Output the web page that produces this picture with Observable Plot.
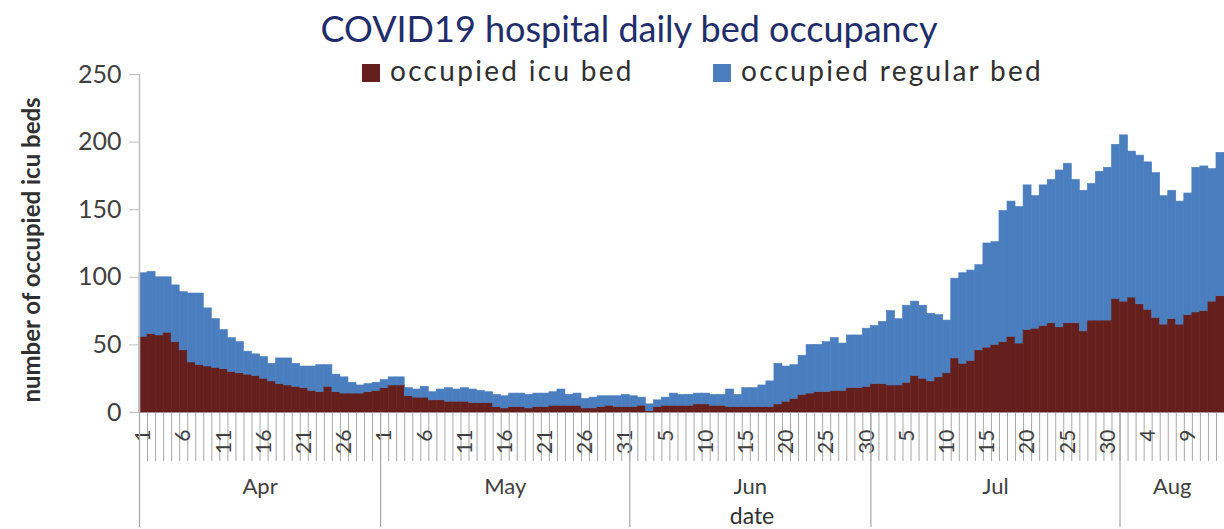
<!DOCTYPE html>
<html>
<head>
<meta charset="utf-8">
<script src="https://cdn.jsdelivr.net/npm/d3@7"></script>
<script src="https://cdn.jsdelivr.net/npm/@observablehq/plot@0.6"></script>
<style>
  html, body { margin: 0; padding: 0; background: #ffffff; }
  body { font-family: Lato, "Open Sans", sans-serif; }
  #wrap { position: relative; width: 1224px; height: 529px; overflow: hidden; background: #fff; }
  #chart { position: absolute; left: 0; top: 0; }
  .abs { position: absolute; white-space: nowrap; line-height: 1; }
  #title { left: 629px; top: 10px; transform: translateX(-50%); font-size: 36px; color: #1f2d6b; }
  .legend { top: 56px; font-size: 28px; color: #303030; letter-spacing: 2.3px; }
  .sw { display: inline-block; width: 18px; height: 18px; vertical-align: -1px; margin-right: 10px; }
  #ytitle { left: 31px; top: 250px; transform: translate(-50%, -50%) rotate(-90deg); font-size: 24px; font-weight: 700; color: #303030; }
  #xtitle { left: 752px; top: 504px; transform: translateX(-50%); font-size: 23px; line-height: 23px; color: #303030; }
</style>
</head>
<body>
<div id="wrap">
  <div id="chart"></div>
  <div id="title" class="abs">COVID19 hospital daily bed occupancy</div>
  <div id="leg1" class="abs legend" style="left:362px"><span class="sw" style="background:#65201e"></span>occupied icu bed</div>
  <div id="leg2" class="abs legend" style="left:713px"><span class="sw" style="background:#4a7ebf"></span>occupied regular bed</div>
  <div id="ytitle" class="abs">number of occupied icu beds</div>
  <div id="xtitle" class="abs">date</div>
</div>
<script>
// ---- data (one value per day, starting at firstDay) ----
const firstDay = "2020-04-01";
const seriesNames = ["occupied icu bed", "occupied regular bed"];
const seriesColors = ["#65201e", "#4a7ebf"];
const icu = [
  56, 58, 57, 59, 52, 46, 37, 35, 34, 33, 32, 30, 29, 28, 27, 25, 23, 21, 20, 19,
  18, 16, 15, 19, 15, 14, 14, 14, 15, 16,
  18, 20, 20, 12, 11, 11, 9, 9, 8, 8, 8, 7, 7, 7, 4, 3, 4, 4, 3, 4,
  4, 5, 5, 5, 5, 3, 3, 4, 5, 4, 4,
  4, 5, 1, 4, 5, 5, 5, 5, 6, 6, 5, 5, 4, 4, 4, 4, 4, 4, 6, 8,
  10, 13, 14, 15, 15, 16, 16, 18, 18, 19,
  21, 21, 20, 20, 22, 27, 25, 23, 26, 29, 40, 36, 38, 46, 48, 50, 52, 56, 51, 61,
  62, 64, 66, 63, 66, 66, 60, 68, 68, 68, 84,
  82, 85, 80, 76, 70, 65, 69, 65, 72, 74, 75, 82, 86
];
const regular = [
  47, 46, 43, 41, 42, 43, 51, 53, 43, 36, 29, 25, 23, 17, 16, 16, 13, 19, 20, 17,
  16, 18, 20, 16, 13, 12, 8, 6, 6, 6,
  6, 6, 6, 6, 6, 8, 6, 8, 10, 9, 10, 10, 9, 8, 9, 9, 10, 10, 10, 10,
  10, 10, 12, 8, 9, 7, 8, 8, 7, 8, 9,
  8, 6, 5, 5, 6, 9, 8, 8, 8, 8, 8, 8, 13, 9, 14, 14, 16, 19, 30, 26,
  25, 29, 36, 35, 37, 39, 35, 39, 39, 43,
  43, 46, 55, 49, 57, 55, 54, 50, 46, 39, 59, 67, 67, 63, 77, 76, 97, 100, 101, 107,
  98, 104, 106, 116, 118, 106, 104, 101, 110, 113, 114,
  123, 108, 110, 109, 107, 95, 95, 91, 90, 107, 107, 98, 106
];
const yTicks = [0, 50, 100, 150, 200, 250];
const dayLabelStep = 5;

// ---- build table ----
const start = d3.utcParse("%Y-%m-%d")(firstDay);
const dates = icu.map((_, i) => d3.utcDay.offset(start, i));
const end = d3.utcDay.offset(dates[dates.length - 1], 1);
const rows = dates.flatMap((d, i) => [
  {date: d, next: d3.utcDay.offset(d, 1), series: seriesNames[0], value: icu[i]},
  {date: d, next: d3.utcDay.offset(d, 1), series: seriesNames[1], value: regular[i]}
]);
const dayLabels = dates.filter((d, i) => i % dayLabelStep === 0).map(d => new Date(+d + 12 * 3600e3));
const monthStarts = d3.utcMonth.range(start, end);
const monthMids = monthStarts.map(m => {
  const e = d3.min([d3.utcMonth.offset(m, 1), end]);
  return new Date((+m + +e) / 2);
});

const chart = Plot.plot({
  width: 1224,
  height: 529,
  marginLeft: 139,
  marginRight: 0,
  marginTop: 74,
  marginBottom: 117,
  style: {fontFamily: "Lato, 'Open Sans', sans-serif", color: "#404040", background: "#ffffff"},
  x: {type: "utc", domain: [start, end], label: null},
  y: {domain: [0, 250], label: null},
  color: {domain: seriesNames, range: seriesColors},
  marks: [
    Plot.ruleY([0], {stroke: "#bfbfbf"}),
    Plot.rectY(rows, Plot.stackY({
      x1: "date", x2: "next", y: "value", fill: "series", stroke: "series", strokeWidth: 0.6, inset: 0
    })),
    Plot.ruleX([start], {stroke: "#bfbfbf", strokeWidth: 1.5}),
    Plot.axisY(yTicks, {tickSize: 10, tickPadding: 8, fontSize: 25, stroke: "#bfbfbf", label: null}),
    Plot.axisX(dates, {tickSize: 49, stroke: "#a8a8a8", strokeWidth: 1, fill: "none", label: null}),
    Plot.axisX(dayLabels, {tickSize: 0, tickPadding: 17, tickRotate: -90, fontSize: 21, tickFormat: d => String(d.getUTCDate()), label: null}),
    Plot.axisX(monthStarts, {tickSize: 115, stroke: "#a8a8a8", strokeWidth: 1.2, fill: "none", label: null}),
    Plot.axisX(monthMids, {tickSize: 0, tickPadding: 66, fontSize: 22, tickFormat: d3.utcFormat("%b"), label: null})
  ]
});
document.getElementById("chart").appendChild(chart);
</script>
</body>
</html>
